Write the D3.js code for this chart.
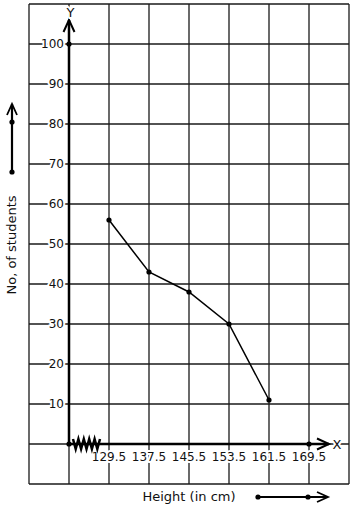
<!DOCTYPE html>
<html>
<head>
<meta charset="utf-8">
<script src="https://cdn.jsdelivr.net/npm/d3@7"></script>
<style>
  body { margin: 0; background: #fff; }
  text { font-family: "DejaVu Sans", sans-serif; font-size: 13px; fill: #111; }
  text.tick { font-size: 12px; }
  .halo { paint-order: stroke; stroke: #fff; stroke-width: 4px; stroke-linejoin: round; }
</style>
</head>
<body>
<div id="chart"></div>
<script>
(function () {
  // upper class boundaries (cm) and cumulative frequencies
  const heights = [129.5, 137.5, 145.5, 153.5, 161.5];
  const students = [56, 43, 38, 30, 11];
  const xTicks = [129.5, 137.5, 145.5, 153.5, 161.5, 169.5];
  const yTicks = [10, 20, 30, 40, 50, 60, 70, 80, 90, 100];
  const origin = 121.5;

  const width = 354, height = 510;

  const svg = d3.select("#chart").append("svg")
    .attr("width", width)
    .attr("height", height);

  const x = d3.scaleLinear().domain([113.5, 177.5]).range([29, 349]);
  const y = d3.scaleLinear().domain([-10, 110]).range([484, 4]);

  // graph paper grid
  const grid = svg.append("g").attr("stroke", "#1a1a1a").attr("stroke-width", 1.3);
  grid.selectAll("line.v")
    .data(d3.range(113.5, 177.6, 8))
    .join("line")
      .attr("x1", d => x(d)).attr("x2", d => x(d))
      .attr("y1", y(110)).attr("y2", y(-10));
  grid.selectAll("line.h")
    .data(d3.range(-10, 110.1, 10))
    .join("line")
      .attr("x1", x(113.5)).attr("x2", x(177.5))
      .attr("y1", d => y(d)).attr("y2", d => y(d));

  // tick labels
  svg.append("g").selectAll("text")
    .data(yTicks)
    .join("text")
      .attr("class", "tick halo")
      .attr("x", x(origin) - 5)
      .attr("y", d => y(d))
      .attr("dy", "0.35em")
      .attr("text-anchor", "end")
      .text(d => d);

  svg.append("g").selectAll("text")
    .data(xTicks)
    .join("text")
      .attr("class", "tick halo")
      .attr("x", d => x(d))
      .attr("y", y(0) + 17)
      .attr("text-anchor", "middle")
      .text(d => d);

  // axes
  const axes = svg.append("g")
    .attr("stroke", "#000").attr("stroke-width", 2.5).attr("fill", "none");
  axes.append("line")
    .attr("x1", x(origin)).attr("x2", x(origin))
    .attr("y1", y(0)).attr("y2", y(106));
  axes.append("path")
    .attr("d", "M" + (x(origin) - 5.5) + "," + (y(106) + 12) + "L" + x(origin) + "," + y(106) + "L" + (x(origin) + 5.5) + "," + (y(106) + 12))
    .attr("stroke-width", 2);
  axes.append("line")
    .attr("x1", x(origin)).attr("x2", x(173.5))
    .attr("y1", y(0)).attr("y2", y(0));
  axes.append("path")
    .attr("d", "M" + (x(173.5) - 12) + "," + (y(0) - 5.5) + "L" + x(173.5) + "," + y(0) + "L" + (x(173.5) - 12) + "," + (y(0) + 5.5))
    .attr("stroke-width", 2);

  // kink (broken axis) zigzag
  const kink = [];
  const kx0 = x(origin) + 4, kx1 = x(origin) + 31, n = 10;
  for (let i = 0; i <= n; i++) {
    kink.push([kx0 + (kx1 - kx0) * i / n, y(0) + (i % 2 ? 5 : -5)]);
  }
  axes.append("path")
    .attr("d", d3.line()(kink))
    .attr("stroke-width", 2.5);

  svg.append("text")
    .attr("class", "halo")
    .attr("x", x(origin) + 1.5).attr("y", y(110) + 13)
    .attr("text-anchor", "middle")
    .text("Y");
  svg.append("text")
    .attr("class", "halo")
    .attr("x", x(173.5) + 8).attr("y", y(0))
    .attr("dy", "0.35em")
    .attr("text-anchor", "middle")
    .text("X");

  // ogive
  const pts = heights.map((h, i) => [x(h), y(students[i])]);
  svg.append("path")
    .attr("d", d3.line()(pts))
    .attr("fill", "none")
    .attr("stroke", "#000")
    .attr("stroke-width", 1.5);

  svg.append("g").selectAll("circle")
    .data(pts.concat([[x(origin), y(0)], [x(origin), y(100)], [x(169.5), y(0)]]))
    .join("circle")
      .attr("cx", d => d[0]).attr("cy", d => d[1])
      .attr("r", 2.6)
      .attr("fill", "#000");

  // axis titles
  svg.append("text")
    .attr("transform", "translate(16,245) rotate(-90)")
    .attr("text-anchor", "middle")
    .text("No, of students");
  svg.append("text")
    .attr("x", 189).attr("y", 501)
    .attr("text-anchor", "middle")
    .text("Height (in cm)");

  // direction arrows beside titles
  const legend = svg.append("g").attr("stroke", "#000").attr("fill", "none").attr("stroke-width", 2.2);
  legend.append("line").attr("x1", 12).attr("x2", 12).attr("y1", 172).attr("y2", 104);
  legend.append("path").attr("d", "M7,115L12,104L17,115").attr("stroke-width", 1.8);
  legend.append("line").attr("x1", 258).attr("x2", 328).attr("y1", 497).attr("y2", 497);
  legend.append("path").attr("d", "M317,492L328,497L317,502").attr("stroke-width", 1.8);
  svg.append("g").selectAll("circle")
    .data([[12, 172], [12, 122], [258, 497], [308, 497]])
    .join("circle")
      .attr("cx", d => d[0]).attr("cy", d => d[1])
      .attr("r", 2.6)
      .attr("fill", "#000");
})();
</script>
</body>
</html>
